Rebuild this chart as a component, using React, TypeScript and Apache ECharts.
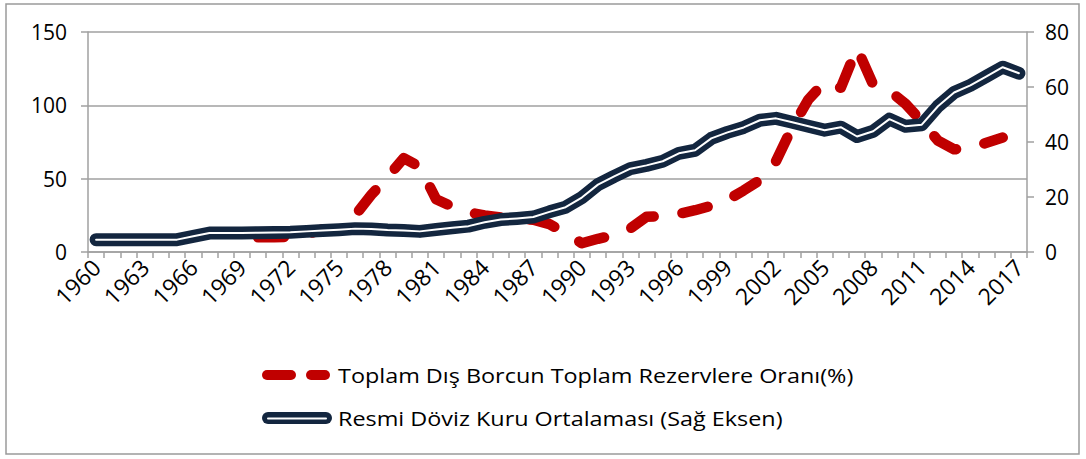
import React, { useEffect, useRef } from "react";
import * as echarts from "echarts";

const years: string[] = [];
for (let y = 1960; y <= 2017; y++) years.push(String(y));

const redName = "Toplam Dış Borcun Toplam Rezervlere Oranı(%)";
const navyName = "Resmi Döviz Kuru Ortalaması (Sağ Eksen)";

// 1960..2017 (left axis); data begins in 1970
const debtRatio: (number | null)[] = [
  null, null, null, null, null, null, null, null, null, null,
  10, 10, 10.5, 12, 15.5, 15, 25, 39, 51, 64,
  58, 36, 31, 27, 25, 23.5, 22.5, 22, 19, 13,
  6, 9, 11.5, 16, 24, 24.5, 26, 28.5, 31.5, 35.5,
  42, 49, 62, 85, 104, 116, 112, 139, 114, 110,
  101, 89, 76, 70, 71, 74.5, 78, null,
];

// 1960..2017 (right axis)
const exchangeRate: number[] = [
  4.5, 4.5, 4.5, 4.5, 4.5, 4.5, 5.7, 6.9, 6.9, 6.9,
  7.0, 7.1, 7.2, 7.5, 7.8, 8.1, 8.5, 8.4, 8.0, 7.8,
  7.5, 8.2, 8.8, 9.4, 10.8, 11.8, 12.2, 12.7, 14.6, 16.3,
  19.8, 24.5, 27.5, 30.3, 31.5, 33, 35.9, 37, 41.3, 43.5,
  45.3, 47.9, 48.6, 47.2, 45.7, 44.3, 45.4, 42, 43.9, 48.3,
  45.7, 46.3, 53, 58, 60.6, 63.9, 67.2, 65,
];

const FONT = "'Open Sans', 'Noto Sans', sans-serif";
const GRID = "#a0a0a0";
const NAVY = "#13263f";
const RED = "#c00000";

export default function App() {
  const ref = useRef<HTMLDivElement>(null);
  useEffect(() => {
    if (!ref.current) return;
    const chart = echarts.init(ref.current, undefined, { renderer: "svg" });
    chart.setOption({
      animation: false,
      textStyle: { fontFamily: FONT },
      grid: { left: 88, top: 32, width: 939, height: 220, containLabel: false },
      xAxis: {
        type: "category",
        data: years,
        boundaryGap: true,
        axisLine: { lineStyle: { color: GRID, width: 1.5 } },
        axisTick: { show: true, interval: 0, length: 6, lineStyle: { color: GRID, width: 1.5 } },
        axisLabel: { interval: 2, rotate: 45, fontSize: 23, color: "#000", margin: 11 },
      },
      yAxis: [
        {
          type: "value",
          min: 0,
          max: 150,
          interval: 50,
          axisLine: { show: true, lineStyle: { color: GRID, width: 1.5 } },
          axisTick: { show: true, length: 7, lineStyle: { color: GRID, width: 1.5 } },
          axisLabel: { fontSize: 21, color: "#000", margin: 21 },
          splitLine: { show: true, lineStyle: { color: GRID, width: 1.5 } },
        },
        {
          type: "value",
          min: 0,
          max: 80,
          interval: 20,
          position: "right",
          axisLine: { show: true, lineStyle: { color: GRID, width: 1.5 } },
          axisTick: { show: true, length: 7, lineStyle: { color: GRID, width: 1.5 } },
          axisLabel: { fontSize: 21, color: "#000", margin: 18 },
          splitLine: { show: false },
        },
      ],
      series: [
        {
          name: redName,
          type: "line",
          yAxisIndex: 0,
          data: debtRatio,
          symbol: "none",
          z: 2,
          lineStyle: { color: RED, width: 10.5, type: [26, 29], cap: "round", join: "round" },
          itemStyle: { color: RED },
        },
        {
          name: navyName,
          type: "line",
          yAxisIndex: 1,
          data: exchangeRate,
          symbol: "none",
          z: 3,
          lineStyle: { color: NAVY, width: 13, cap: "round", join: "round" },
          itemStyle: { color: NAVY },
        },
        {
          name: "inner",
          type: "line",
          yAxisIndex: 1,
          data: exchangeRate,
          symbol: "none",
          z: 4,
          silent: true,
          lineStyle: { color: "#ffffff", width: 2, cap: "round", join: "round" },
        },
      ],
      graphic: [
        {
          type: "rect",
          shape: { x: 6, y: 4, width: 1073, height: 450 },
          style: { fill: "none", stroke: "#9a9a9a", lineWidth: 1.5 },
          silent: true,
        },
        // legend: red dashed sample
        {
          type: "line",
          shape: { x1: 267, y1: 375, x2: 291, y2: 375 },
          style: { stroke: RED, lineWidth: 10, lineCap: "round" },
          silent: true,
        },
        {
          type: "line",
          shape: { x1: 311, y1: 375, x2: 325, y2: 375 },
          style: { stroke: RED, lineWidth: 10, lineCap: "round" },
          silent: true,
        },
        {
          type: "text",
          x: 338,
          y: 375,
          scaleX: 1.17,
          style: {
            text: redName,
            fontSize: 20,
            fontFamily: FONT,
            fill: "#000",
            verticalAlign: "middle",
          },
          silent: true,
        },
        // legend: navy double-line sample
        {
          type: "line",
          shape: { x1: 268, y1: 418, x2: 326, y2: 418 },
          style: { stroke: NAVY, lineWidth: 12, lineCap: "round" },
          silent: true,
        },
        {
          type: "line",
          shape: { x1: 268, y1: 418.5, x2: 326, y2: 418.5 },
          style: { stroke: "#ffffff", lineWidth: 2, lineCap: "round" },
          silent: true,
        },
        {
          type: "text",
          x: 338,
          y: 418,
          scaleX: 1.17,
          style: {
            text: navyName,
            fontSize: 20,
            fontFamily: FONT,
            fill: "#000",
            verticalAlign: "middle",
          },
          silent: true,
        },
      ],
    });
    return () => chart.dispose();
  }, []);
  return (
    <div
      ref={ref}
      style={{ position: "absolute", left: 0, top: 0, width: 1086, height: 459 }}
    />
  );
}
